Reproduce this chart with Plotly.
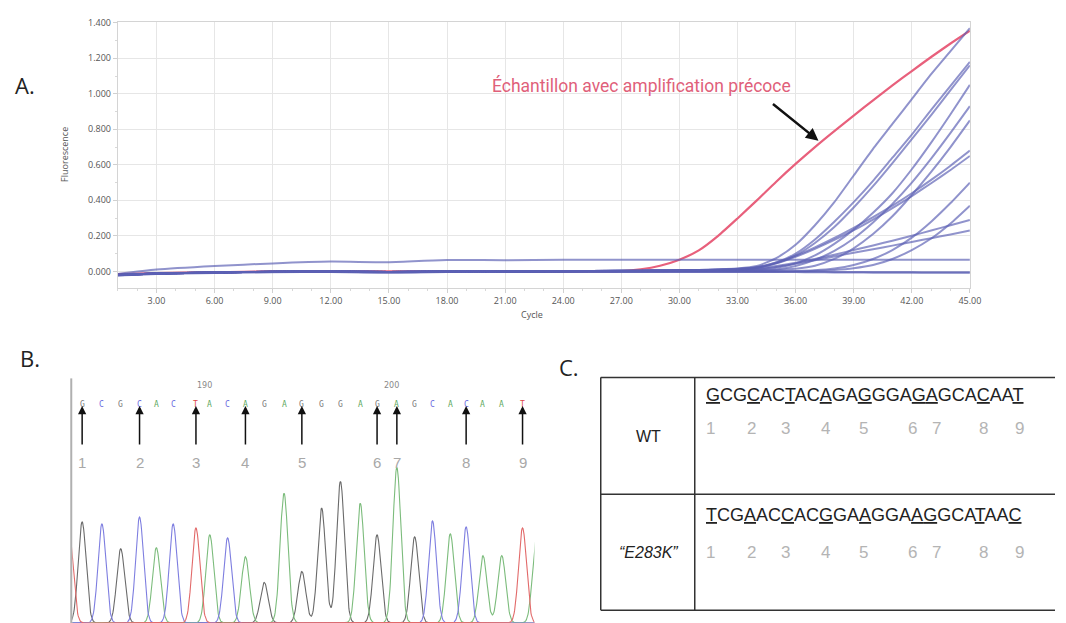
import numpy as np
import plotly.graph_objects as go

W, H = 1066, 623

def px(x):
    return x / W

def py(y):
    return 1 - y / H

# ---------------- Panel A : amplification curves ----------------
CYCLES = [1, 3, 6, 9, 12, 15, 18, 21, 24, 27, 28, 29, 30, 31, 32, 33,
          34, 35, 36, 37, 38, 39, 40, 41, 42, 43, 44, 45]

EARLY_SAMPLE = [-0.015, -0.01, -0.005, 0.0, 0.0, 0.0, 0.0, 0.0, 0.0, 0.002, 0.012, 0.032, 0.066, 0.118, 0.2, 0.298,
                0.40, 0.505, 0.605, 0.70, 0.79, 0.877, 0.963, 1.047, 1.128, 1.207, 1.283, 1.355]

RISE_1 = [-0.02, -0.012, -0.006, -0.002, 0.0, -0.004, 0.0, 0.0, 0.002, 0.003, 0.004, 0.005, 0.006, 0.008, 0.011, 0.016,
          0.03, 0.075, 0.15, 0.26, 0.39, 0.54, 0.69, 0.83, 0.97, 1.11, 1.24, 1.37]
RISE_2 = [-0.02, -0.012, -0.006, -0.002, 0.0, -0.004, 0.0, 0.0, 0.002, 0.003, 0.004, 0.005, 0.006, 0.007, 0.009, 0.012,
          0.022, 0.05, 0.10, 0.18, 0.28, 0.39, 0.51, 0.64, 0.77, 0.91, 1.045, 1.18]
RISE_3 = [-0.018, -0.011, -0.005, -0.002, 0.0, -0.003, 0.0, 0.0, 0.001, 0.002, 0.003, 0.004, 0.005, 0.006, 0.008, 0.011,
          0.02, 0.045, 0.09, 0.16, 0.25, 0.36, 0.48, 0.61, 0.745, 0.88, 1.02, 1.16]
RISE_4 = [-0.02, -0.012, -0.006, -0.002, 0.0, -0.004, 0.0, 0.0, 0.001, 0.002, 0.002, 0.003, 0.003, 0.004, 0.005, 0.007,
          0.01, 0.02, 0.045, 0.09, 0.155, 0.235, 0.33, 0.44, 0.575, 0.725, 0.885, 1.05]
RISE_5 = [-0.02, -0.012, -0.006, -0.002, 0.0, -0.004, 0.0, 0.0, 0.0, 0.001, 0.001, 0.002, 0.002, 0.003, 0.003, 0.004,
          0.005, 0.01, 0.03, 0.065, 0.115, 0.185, 0.275, 0.38, 0.5, 0.635, 0.78, 0.93]
RISE_6 = [-0.02, -0.012, -0.006, -0.002, 0.0, -0.004, 0.0, 0.0, 0.0, 0.001, 0.001, 0.001, 0.002, 0.002, 0.003, 0.004,
          0.005, 0.008, 0.015, 0.032, 0.07, 0.13, 0.21, 0.31, 0.43, 0.56, 0.70, 0.85]
RISE_7 = [-0.02, -0.012, -0.006, -0.002, 0.0, -0.004, 0.0, 0.0, 0.002, 0.003, 0.004, 0.005, 0.006, 0.008, 0.011, 0.015,
          0.025, 0.05, 0.088, 0.135, 0.188, 0.245, 0.305, 0.37, 0.44, 0.515, 0.595, 0.68]
RISE_8 = [-0.02, -0.012, -0.006, -0.002, 0.0, -0.004, 0.0, 0.0, 0.002, 0.003, 0.004, 0.005, 0.006, 0.007, 0.010, 0.014,
          0.022, 0.045, 0.082, 0.127, 0.177, 0.232, 0.292, 0.356, 0.424, 0.496, 0.571, 0.65]
RISE_9 = [-0.02, -0.012, -0.006, -0.002, 0.0, -0.004, 0.0, 0.0, 0.0, 0.0, 0.0, 0.0, 0.0, 0.0, 0.0, 0.0,
          0.0, 0.0, 0.002, 0.006, 0.016, 0.036, 0.07, 0.12, 0.19, 0.28, 0.385, 0.50]
RISE_10 = [-0.02, -0.012, -0.006, -0.002, 0.0, -0.004, 0.0, 0.0, 0.0, 0.0, 0.0, 0.0, 0.0, 0.0, 0.0, 0.0,
           0.0, 0.0, 0.0, 0.003, 0.008, 0.018, 0.036, 0.07, 0.12, 0.185, 0.27, 0.37]
RISE_11 = [-0.02, -0.012, -0.006, -0.002, 0.0, -0.004, 0.0, 0.0, 0.002, 0.003, 0.004, 0.005, 0.006, 0.007, 0.008, 0.010,
           0.016, 0.03, 0.048, 0.07, 0.094, 0.12, 0.146, 0.173, 0.201, 0.23, 0.26, 0.29]
RISE_12 = [-0.02, -0.012, -0.006, -0.002, 0.0, -0.004, 0.0, 0.0, 0.002, 0.003, 0.004, 0.005, 0.006, 0.007, 0.008, 0.009,
           0.013, 0.025, 0.043, 0.063, 0.084, 0.105, 0.125, 0.145, 0.166, 0.187, 0.208, 0.23]
FLAT_HIGH = [-0.015, 0.01, 0.03, 0.045, 0.055, 0.052, 0.064, 0.063, 0.066, 0.066, 0.066, 0.066, 0.066, 0.066, 0.066, 0.066,
             0.066, 0.066, 0.066, 0.066, 0.066, 0.065, 0.065, 0.065, 0.065, 0.065, 0.065, 0.065]
FLAT_LOW_1 = [-0.022, -0.013, -0.007, -0.003, 0.0, -0.006, 0.0, -0.002, 0.0, 0.0, 0.0, 0.0, 0.0, 0.0, 0.0, 0.0,
              0.0, 0.0, -0.001, -0.002, -0.003, -0.003, -0.004, -0.004, -0.004, -0.005, -0.005, -0.005]
FLAT_LOW_2 = [-0.024, -0.015, -0.009, -0.005, -0.003, -0.008, -0.003, -0.004, -0.003, -0.003, -0.003, -0.003, -0.003, -0.003, -0.003, -0.003,
              -0.003, -0.004, -0.004, -0.005, -0.006, -0.006, -0.007, -0.007, -0.008, -0.008, -0.008, -0.008]

BLUE_CURVES = [FLAT_HIGH, FLAT_LOW_1, FLAT_LOW_2, RISE_12, RISE_11, RISE_10, RISE_9, RISE_8, RISE_7,
               RISE_6, RISE_5, RISE_4, RISE_3, RISE_2, RISE_1]

X_TICKS = [3, 6, 9, 12, 15, 18, 21, 24, 27, 30, 33, 36, 39, 42, 45]
X_TICK_TEXT = ["3.00", "6.00", "9.00", "12.00", "15.00", "18.00", "21.00", "24.00", "27.00",
               "30.00", "33.00", "36.00", "39.00", "42.00", "45.00"]
Y_TICKS = [0.0, 0.2, 0.4, 0.6, 0.8, 1.0, 1.2, 1.4]
Y_TICK_TEXT = ["0.000", "0.200", "0.400", "0.600", "0.800", "1.000", "1.200", "1.400"]

# ---------------- Panel B : chromatogram ----------------
BASES = list("GCGCACTACAGAGGGAGAGCACAAT")
PEAK_POS = [83, 103, 122, 141, 158, 175, 198, 212, 230, 248, 267, 287, 305, 325, 344, 364, 381, 401, 419, 437,
            455, 471, 488, 507, 528]
PEAK_H = [102, 100, 75, 107, 76, 100, 96, 89, 86, 67, 41, 131, 52, 116, 143, 121, 89, 157, 87, 103,
          90, 97, 68, 68, 96]
EDGE_BASES = ["T", "A"]
EDGE_POS = [70, 542]
EDGE_H = [90, 84]
MARKED_INDEX = [0, 3, 6, 9, 12, 16, 17, 21, 24]
MARK_LABELS = ["1", "2", "3", "4", "5", "6", "7", "8", "9"]
POS_LABELS = ["190", "200"]
POS_LABEL_INDEX = [7, 17]

TRACE_COLORS = {"G": "#6a6a6a", "A": "#7cbc7c", "C": "#7e7ee0", "T": "#e26a6a"}
LETTER_COLORS = {"G": "#7a7a7a", "A": "#5fa85f", "C": "#6a6ae0", "T": "#e04848"}

# ---------------- Panel C : sequences ----------------
ROW_LABELS = ["WT", "<i>“E283K”</i>"]
SEQUENCES = ["GCGCACTACAGAGGGAGAGCACAAT", "TCGAACCACGGAAGGAAGGCATAAC"]
UNDERLINED = [0, 3, 6, 9, 12, 16, 17, 21, 24]
NUM_X = [718, 759, 794, 834, 872, 922, 946, 994, 1030]

fig = go.Figure()

# Panel A traces
fig.add_trace(go.Scatter(x=CYCLES, y=EARLY_SAMPLE, mode="lines",
                         line=dict(color="#e8607c", width=2.2, shape="spline", smoothing=0.6),
                         xaxis="x", yaxis="y", hoverinfo="skip"))
for c in BLUE_CURVES:
    fig.add_trace(go.Scatter(x=CYCLES, y=c, mode="lines",
                             line=dict(color="rgba(92,96,180,0.68)", width=2.0, shape="spline", smoothing=0.6),
                             xaxis="x", yaxis="y", hoverinfo="skip"))

# Panel B traces (each peak drawn as a Gaussian of the read intensity)
SIGMA = 4.0
scan = np.arange(60, 550.5, 0.5)
all_bases = BASES + EDGE_BASES
all_pos = PEAK_POS + EDGE_POS
all_h = PEAK_H + EDGE_H
for ch in ["G", "A", "C", "T"]:
    sig = np.zeros_like(scan)
    for b, p, h in zip(all_bases, all_pos, all_h):
        if b == ch:
            sig += h * np.exp(-0.5 * ((scan - p) / SIGMA) ** 2)
    fig.add_trace(go.Scatter(x=scan, y=sig, mode="lines", line=dict(color=TRACE_COLORS[ch], width=1.1),
                             xaxis="x2", yaxis="y2", hoverinfo="skip"))

annotations = []
shapes = []

def label(x, y, text, size, color, family, xref="paper", **kw):
    d = dict(x=x, y=y, xref=xref, yref="paper", text=text, showarrow=False,
             xanchor=kw.pop("xanchor", "center"), yanchor="middle",
             font=dict(size=size, color=color, family=family))
    d.update(kw)
    annotations.append(d)

# Panel A texts
label(px(25), py(80), "A.", 22, "#222", "Open Sans")
label(px(65), py(150), "Fluorescence", 9, "#555", "Open Sans", textangle=-90)
label(px(538), py(311), "Cycle", 9, "#555", "Open Sans")
label(px(648), py(80), "Échantillon avec amplification précoce", 17.5, "#e0607a", "Roboto")
annotations.append(dict(x=px(827), y=py(136), xref="paper", yref="paper", text="", showarrow=True,
                        ax=-47, ay=-38, arrowhead=2, arrowsize=1, arrowwidth=2.5, arrowcolor="#111"))

# Panel B texts
label(px(30), py(355), "B.", 22, "#222", "Open Sans")
for b, p in zip(BASES, PEAK_POS):
    label(p, py(402), b, 8, LETTER_COLORS[b], "DejaVu Sans Mono", xref="x2")
for lab, idx in zip(POS_LABELS, POS_LABEL_INDEX):
    label(PEAK_POS[idx] - 5, py(383), lab, 8, "#888", "DejaVu Sans", xref="x2")
for lab, idx in zip(MARK_LABELS, MARKED_INDEX):
    annotations.append(dict(x=PEAK_POS[idx], y=py(404), xref="x2", yref="paper", text="", showarrow=True,
                            ax=0, ay=40, arrowhead=2, arrowsize=1.1, arrowwidth=1.5, arrowcolor="#111"))
    label(PEAK_POS[idx], py(461), lab, 15, "#a8a8a8", "Liberation Sans", xref="x2")
shapes.append(dict(type="line", xref="paper", yref="paper", x0=px(72), x1=px(72), y0=py(376), y1=0,
                   line=dict(color="#b0b0b0", width=2)))

# Panel C
label(px(575), py(365), "C.", 22, "#222", "Open Sans")
row_y = [(393, 427, 435), (514, 552, 552)]
for lab, seq, (ys, yn, yl) in zip(ROW_LABELS, SEQUENCES, row_y):
    label(px(655), py(yl), lab, 16, "#222", "Liberation Sans")
    parts = []
    for i, ch in enumerate(seq):
        if i in UNDERLINED:
            parts.append('<span style="text-decoration:underline">' + ch + '</span>')
        else:
            parts.append(ch)
    label(px(711), py(ys), "".join(parts), 18, "#222", "Liberation Sans", xanchor="left")
    for n, xn in zip(MARK_LABELS, NUM_X):
        label(px(xn), py(yn), n, 17, "#b4b4b4", "Liberation Sans")

lc = dict(color="#333", width=1.5)
shapes += [
    dict(type="line", xref="paper", yref="paper", x0=px(607), x1=1, y0=py(375), y1=py(375), line=lc),
    dict(type="line", xref="paper", yref="paper", x0=px(607), x1=1, y0=py(493), y1=py(493), line=lc),
    dict(type="line", xref="paper", yref="paper", x0=px(607), x1=1, y0=py(610), y1=py(610), line=lc),
    dict(type="line", xref="paper", yref="paper", x0=px(607), x1=px(607), y0=py(375), y1=py(610), line=lc),
    dict(type="line", xref="paper", yref="paper", x0=px(702), x1=px(702), y0=py(375), y1=py(610), line=lc),
]

fig.update_layout(
    width=W, height=H, autosize=False, margin=dict(l=0, r=0, t=0, b=0, pad=0),
    paper_bgcolor="white", plot_bgcolor="white", showlegend=False,
    xaxis=dict(domain=[px(119), px(980)], range=[1, 45], tickvals=X_TICKS, ticktext=X_TICK_TEXT,
               showgrid=True, gridcolor="#e6e6e6", gridwidth=1, showline=True, linecolor="#d4d4d4", mirror=True,
               ticks="outside", ticklen=4, tickcolor="#d0d0d0",
               minor=dict(dtick=1, ticks="outside", ticklen=2, tickcolor="#d8d8d8", showgrid=False),
               tickfont=dict(size=9, color="#555", family="Open Sans"), zeroline=False, anchor="y"),
    yaxis=dict(domain=[py(285), py(16)], range=[-0.095, 1.405], tickvals=Y_TICKS, ticktext=Y_TICK_TEXT,
               showgrid=True, gridcolor="#e6e6e6", gridwidth=1, showline=True, linecolor="#d4d4d4", mirror=True,
               ticks="outside", ticklen=4, tickcolor="#d0d0d0",
               minor=dict(dtick=0.1, ticks="outside", ticklen=2, tickcolor="#d8d8d8", showgrid=False),
               tickfont=dict(size=9, color="#555", family="Open Sans"), zeroline=False, anchor="x"),
    xaxis2=dict(domain=[px(73), px(540)], range=[73, 540], visible=False, anchor="y2"),
    yaxis2=dict(domain=[0, py(440)], range=[0, 183], visible=False, anchor="x2"),
    annotations=annotations, shapes=shapes,
)

fig.write_html("out.html")
